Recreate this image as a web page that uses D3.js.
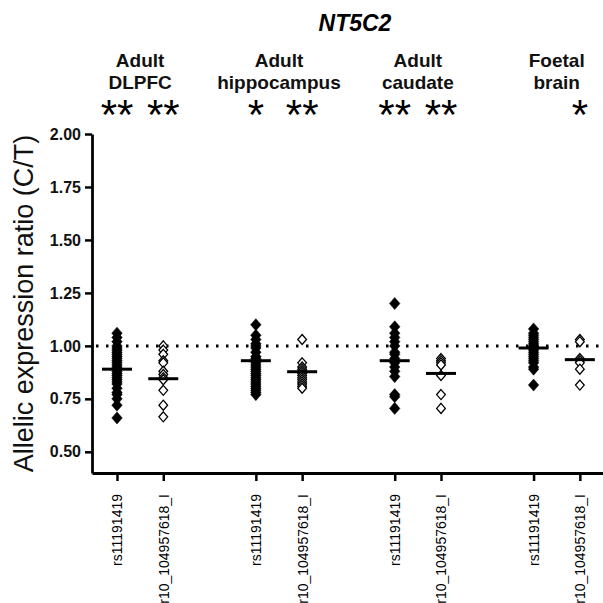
<!DOCTYPE html>
<html>
<head>
<meta charset="utf-8">
<script src="https://cdn.jsdelivr.net/npm/d3@7"></script>
<style>
  body { margin: 0; background: #fff; }
  svg { display: block; font-family: "Liberation Sans", Arial, sans-serif; }
</style>
</head>
<body>
<svg id="chart" width="603" height="603"></svg>
<script>
// datos
const title = "NT5C2";
const groupLines = [["Adult", "DLPFC"], ["Adult", "hippocampus"], ["Adult", "caudate"], ["Foetal", "brain"]];
const snps = ["rs11191419", "chr10_104957618_I"];
const stars = [["**", "**"], ["*", "**"], ["**", "**"], ["", "*"]];
const yTicks = [0.5, 0.75, 1.0, 1.25, 1.5, 1.75, 2.0];

const dlpfcRs = [1.06, 1.04, 1.02, 1.00, 0.99, 0.98, 0.97, 0.96, 0.95, 0.94, 0.93, 0.92, 0.91, 0.90, 0.89,
  0.88, 0.87, 0.86, 0.85, 0.84, 0.83, 0.82, 0.80, 0.78, 0.77, 0.75, 0.72, 0.66];
const dlpfcChr = [1.00, 0.98, 0.96, 0.93, 0.92, 0.88, 0.865, 0.85, 0.84, 0.79, 0.72, 0.665];
const hippRs = [1.10, 1.05, 1.03, 1.01, 1.00, 0.99, 0.97, 0.95, 0.94, 0.93, 0.92, 0.91, 0.90, 0.89, 0.88,
  0.87, 0.86, 0.85, 0.84, 0.83, 0.82, 0.81, 0.80, 0.79, 0.78, 0.77];
const hippChr = [1.03, 0.92, 0.90, 0.89, 0.88, 0.87, 0.86, 0.85, 0.84, 0.83, 0.82, 0.81, 0.80];
const caudRs = [1.20, 1.09, 1.06, 1.04, 1.02, 1.00, 0.97, 0.96, 0.94, 0.92, 0.90, 0.88, 0.855, 0.77, 0.76, 0.705];
const caudChr = [0.94, 0.93, 0.92, 0.91, 0.86, 0.77, 0.705];
const foetRs = [1.08, 1.06, 1.05, 1.04, 1.03, 1.02, 1.01, 1.00, 0.99, 0.98, 0.97, 0.96, 0.95, 0.94, 0.93,
  0.92, 0.90, 0.89, 0.815];
const foetChr = [1.03, 1.02, 0.94, 0.93, 0.92, 0.89, 0.815];
const means = [[0.89, 0.845], [0.93, 0.878], [0.93, 0.87], [0.99, 0.935]];

const series = [[dlpfcRs, dlpfcChr], [hippRs, hippChr], [caudRs, caudChr], [foetRs, foetChr]];

// columnas: dos por grupo con un hueco entre grupos
const columns = [];
series.forEach((pair, g) => pair.forEach((vals, s) => {
  columns.push({ g, s, slot: g * 3 + s, vals, mean: means[g][s], star: stars[g][s], snp: snps[s] });
}));

const svg = d3.select('#chart');
const x = d3.scaleLinear().domain([-0.54, 10.5]).range([92, 603]);
const y = d3.scaleLinear().domain([0.4, 2.0]).range([473, 134]);

// forma de rombo
const diamond = {
  draw(ctx, size) {
    const w = Math.sqrt(size) / 2, h = w * 1.15;
    ctx.moveTo(0, -h); ctx.lineTo(w, 0); ctx.lineTo(0, h); ctx.lineTo(-w, 0); ctx.closePath();
  }
};

// linea punteada en 1.00
svg.append('line')
  .attr('x1', x.range()[0] + 4).attr('x2', 603)
  .attr('y1', y(1)).attr('y2', y(1))
  .attr('stroke', '#000').attr('stroke-width', 3)
  .attr('stroke-dasharray', '2.5,7.5');

// eje y
const ejeY = svg.append('g')
  .attr('transform', `translate(${x.range()[0]},0)`)
  .call(d3.axisLeft(y).tickValues(yTicks).tickFormat(d3.format('.2f')).tickSize(7).tickSizeOuter(0).tickPadding(4));
ejeY.select('.domain').attr('stroke-width', 2.8);
ejeY.selectAll('.tick line').attr('stroke-width', 2.5);
ejeY.selectAll('.tick text').attr('font-size', 16).attr('font-weight', 'bold').attr('fill', '#111')
  .attr('font-family', '"Liberation Sans", Arial, sans-serif');

// eje x
const ejeX = svg.append('g')
  .attr('transform', `translate(0,${y.range()[0]})`)
  .call(d3.axisBottom(x).tickValues(columns.map(c => c.slot))
    .tickFormat((d, i) => columns[i].snp).tickSize(8).tickSizeOuter(0));
ejeX.select('.domain').attr('stroke-width', 2.8);
ejeX.selectAll('.tick line').attr('stroke-width', 2.5);
ejeX.selectAll('.tick text')
  .attr('font-size', 14).attr('fill', '#000')
  .attr('font-family', '"Liberation Sans", Arial, sans-serif')
  .attr('text-anchor', 'end')
  .attr('transform', 'rotate(-90)')
  .attr('x', -21).attr('y', 0).attr('dy', '0.35em');

// puntos
const cols = svg.append('g').selectAll('g.col').data(columns).join('g').attr('class', 'col');
cols.selectAll('path')
  .data(c => c.vals.map(v => ({ v, c })))
  .join('path')
  .attr('transform', d => `translate(${x(d.c.slot)},${y(d.v)})`)
  .attr('d', d => d3.symbol(diamond, d.c.s === 0 ? 110 : 76)())
  .attr('fill', d => d.c.s === 0 ? '#000' : '#fff')
  .attr('stroke', '#000')
  .attr('stroke-width', d => d.c.s === 0 ? 0.5 : 1.3);

// lineas de media
svg.append('g').selectAll('line').data(columns).join('line')
  .attr('x1', c => x(c.slot) - 15).attr('x2', c => x(c.slot) + 15)
  .attr('y1', c => y(c.mean)).attr('y2', c => y(c.mean))
  .attr('stroke', '#000').attr('stroke-width', 3);

// asteriscos
svg.append('g').selectAll('text').data(columns).join('text')
  .attr('x', c => x(c.slot)).attr('y', 129)
  .attr('text-anchor', 'middle')
  .attr('font-size', 42)
  .text(c => c.star);

// nombres de grupos
const etiquetas = svg.append('g').selectAll('text').data(groupLines).join('text')
  .attr('text-anchor', 'middle')
  .attr('font-size', 19).attr('font-weight', 'bold').attr('fill', '#111');
etiquetas.selectAll('tspan').data((d, g) => d.map(t => ({ t, g }))).join('tspan')
  .attr('x', d => x(d.g * 3 + 0.5))
  .attr('y', (d, i) => 67 + i * 22)
  .text(d => d.t);

// titulo
svg.append('text')
  .attr('x', 355).attr('y', 31)
  .attr('text-anchor', 'middle')
  .attr('font-size', 23).attr('font-weight', 'bold').attr('font-style', 'italic')
  .text(title);

// titulo del eje y
svg.append('text')
  .attr('transform', `translate(33,${(y.range()[0] + y.range()[1]) / 2}) rotate(-90)`)
  .attr('text-anchor', 'middle')
  .attr('font-size', 27).attr('fill', '#111')
  .text('Allelic expression ratio (C/T)');
</script>
</body>
</html>
